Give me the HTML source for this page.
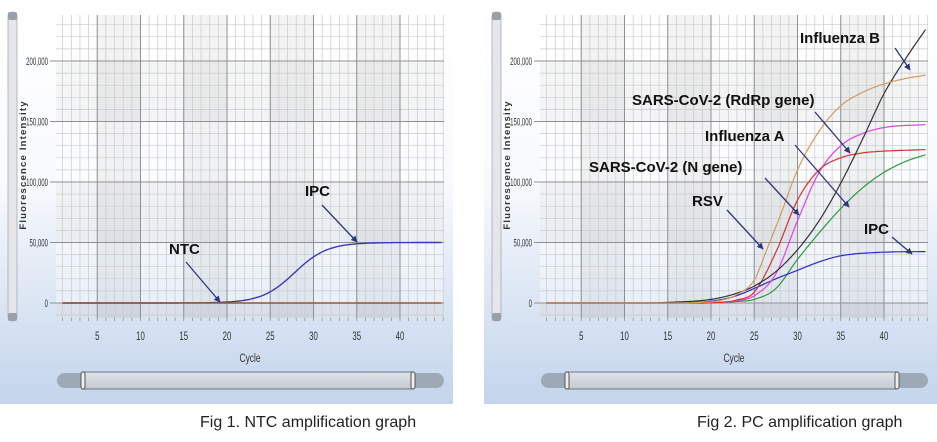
<!DOCTYPE html>
<html><head><meta charset="utf-8"><style>
html,body{margin:0;padding:0;background:#fff;width:937px;height:442px;overflow:hidden}
svg{display:block}
text{font-family:"Liberation Sans",sans-serif}
</style></head><body>
<svg id="s" width="937" height="442" xmlns="http://www.w3.org/2000/svg">
<defs>
<linearGradient id="bg" x1="0" y1="0" x2="0" y2="1">
<stop offset="0" stop-color="#ffffff"/><stop offset="0.45" stop-color="#f8fafd"/><stop offset="1" stop-color="#c3d4ec"/></linearGradient>
<linearGradient id="sl" x1="0" y1="0" x2="0" y2="1"><stop offset="0" stop-color="#dfe3e9"/><stop offset="1" stop-color="#c3c9d2"/></linearGradient>
<marker id="ah" viewBox="0 0 10 10" refX="9" refY="5" markerWidth="5" markerHeight="5" orient="auto"><path d="M0,0L10,5L0,10z" fill="#2e3580"/></marker>
</defs>
<g id="root"></g>
<text x="200" y="427" font-size="16" fill="#222">Fig 1. NTC amplification graph</text>
<text x="697" y="427" font-size="16" fill="#222">Fig 2. PC amplification graph</text>
</svg>
<script>
const NS="http://www.w3.org/2000/svg";
const root=document.getElementById('root');
function el(t,a,p){const e=document.createElementNS(NS,t);for(const k in a)e.setAttribute(k,a[k]);(p||root).appendChild(e);return e;}
function txt(x,y,s,a){const e=el('text',Object.assign({x:x,y:y},a));e.textContent=s;return e;}
const Y0=303,PX=60.5/50000,CX=8.65;
function panel(ox){
 el('rect',{x:ox,y:0,width:453,height:404,fill:'url(#bg)'});
 const L=ox+56,R=ox+444,T=15,B=318;
 const cx=c=>ox+54+CX*c, cy=v=>Y0-v*PX;
 el('rect',{x:L,y:T,width:R-L,height:B-T,fill:'rgba(255,255,255,0.4)'});
 [[200000,150000],[100000,50000]].forEach(b=>el('rect',{x:L,y:cy(b[0]),width:R-L,height:cy(b[1])-cy(b[0]),fill:'rgba(0,0,0,0.035)'}));
 el('rect',{x:L,y:Y0,width:R-L,height:B-Y0,fill:'rgba(0,0,0,0.06)'});
 [5,15,25,35].forEach(c=>el('rect',{x:cx(c),y:T,width:CX*5,height:B-T,fill:'rgba(0,0,0,0.045)'}));
 for(let c=1;c<=45;c++){el('line',{x1:cx(c),x2:cx(c),y1:T,y2:B,stroke:'#cacaca','stroke-width':0.7});}
 for(let v=-10000;v<=230000;v+=10000){const y=cy(v);if(y<T||y>B)continue;el('line',{x1:L,x2:R,y1:y,y2:y,stroke:'#cacaca','stroke-width':0.7});}
 for(let v=0;v<=200000;v+=50000){el('line',{x1:L-6,x2:R,y1:cy(v),y2:cy(v),stroke:'#909090','stroke-width':1});
  const tx=ox+48,ty=cy(v)+4;
  txt(tx,ty,v?v.toLocaleString('en-US'):'0',{'font-size':11,'text-anchor':'end',fill:'#333',transform:`translate(${tx},${ty}) scale(0.55,1) translate(${-tx},${-ty})`});}
 for(let c=5;c<=40;c+=5){el('line',{x1:cx(c),x2:cx(c),y1:T,y2:B,stroke:'#909090','stroke-width':1});
  txt(cx(c),340,String(c),{'font-size':12,'text-anchor':'middle',fill:'#333',transform:`translate(${cx(c)},340) scale(0.65,1) translate(${-cx(c)},-340)`});}
 for(let c=1;c<=45;c++)el('line',{x1:cx(c),x2:cx(c),y1:B,y2:B+3,stroke:'#888','stroke-width':0.7});
 txt(ox+250,362,'Cycle',{'font-size':12,'text-anchor':'middle',fill:'#333',transform:`translate(${ox+250},362) scale(0.7,1) translate(${-(ox+250)},-362)`});
 el('rect',{x:ox+8,y:12,width:9,height:309,rx:4,fill:'#e4e6ea',stroke:'#aab',"stroke-width":0.8});
 el('rect',{x:ox+8,y:12,width:9,height:8,rx:2,fill:'#9aa0a8'});
 el('rect',{x:ox+8,y:313,width:9,height:8,rx:2,fill:'#9aa0a8'});
 txt(0,0,'Fluorescence Intensity',{'font-size':9.5,'font-weight':'bold','letter-spacing':'1.2','text-anchor':'middle',fill:'#333',transform:`translate(${ox+26},165) rotate(-90)`});
 el('rect',{x:ox+57,y:373,width:387,height:15,rx:7.5,fill:'#9ea9b8'});
 el('rect',{x:ox+82,y:372,width:331,height:17,fill:'url(#sl)',stroke:'#6d7480','stroke-width':1});
 el('rect',{x:ox+81,y:372,width:4,height:17,rx:2,fill:'#eee',stroke:'#555'});
 el('rect',{x:ox+411,y:372,width:4,height:17,rx:2,fill:'#eee',stroke:'#555'});
 return {cx,cy};
}
function sig(P,m,s){return c=>{const b=P/(1+Math.exp(-(1-m)/s));return Math.max(0,P/(1+Math.exp(-(c-m)/s))-b);};}
function mono(pts){const n=pts.length,xs=pts.map(p=>p[0]),ys=pts.map(p=>p[1]);const d=[],m=[];
 for(let i=0;i<n-1;i++)d.push((ys[i+1]-ys[i])/(xs[i+1]-xs[i]));
 m[0]=d[0];m[n-1]=d[n-2];for(let i=1;i<n-1;i++)m[i]=(d[i-1]*d[i]<=0)?0:(d[i-1]+d[i])/2;
 for(let i=0;i<n-1;i++){if(d[i]===0){m[i]=m[i+1]=0;continue;}const a=m[i]/d[i],b=m[i+1]/d[i],s=a*a+b*b;if(s>9){const t=3/Math.sqrt(s);m[i]=t*a*d[i];m[i+1]=t*b*d[i];}}
 return c=>{let i=0;while(i<n-2&&c>xs[i+1])i++;const h=xs[i+1]-xs[i],t=(c-xs[i])/h,t2=t*t,t3=t2*t;
  return (2*t3-3*t2+1)*ys[i]+(t3-2*t2+t)*h*m[i]+(-2*t3+3*t2)*ys[i+1]+(t3-t2)*h*m[i+1];};}
function curve(f,m,color,w){let d='';for(let c=1;c<=45;c+=0.2){d+=(d?'L':'M')+m.cx(c).toFixed(1)+','+m.cy(Math.max(0,f(c))).toFixed(1);}
 el('path',{d:d,fill:'none',stroke:color,'stroke-width':w||1.2});}
function arrow(x1,y1,x2,y2){el('line',{x1,y1,x2,y2,stroke:'#2e3580','stroke-width':1.3,'marker-end':'url(#ah)'});}
function lab(x,y,s){txt(x,y,s,{'font-size':15,'font-weight':'bold',fill:'#111'});}
const m1=panel(0);
curve(sig(50000,27.8,1.89),m1,'#3a3ab8',1.4);
curve(c=>0,m1,'#a0522d',1.6);
lab(169,254,'NTC');arrow(186,262,220,302);
lab(305,196,'IPC');arrow(322,205,357,242);
const m2=panel(484);
curve(mono([[1,0],[18,0],[21,300],[23,1200],[25,3000],[27.5,12000],[30,36000],[32.5,58000],[35,78000],[37.5,95000],[40,108000],[42.5,117000],[45,123000]]),m2,'#2e9a40');
curve(mono([[1,0],[15,0],[18,500],[20,1500],[22.5,5000],[25,12000],[27.5,20000],[30,27000],[32.5,34000],[35,39000],[40,42000],[45,42500]]),m2,'#2a2ac8');
curve(mono([[1,0],[18,0],[21,500],[23,1800],[25,6000],[27.5,24000],[30,68000],[32.5,108000],[35,130000],[37.5,140000],[40,145000],[45,147500]]),m2,'#e040e0');
curve(mono([[1,0],[18,0],[21,500],[23,2500],[25,9000],[27.5,42000],[30,85000],[32.5,110000],[35,120000],[37.5,124000],[40,125500],[45,126800]]),m2,'#d83030');
curve(mono([[1,0],[12,0],[15,500],[20,3000],[22.5,7000],[25,14000],[27.5,26000],[30,44000],[32.5,68000],[35,99000],[37.5,135000],[40,173000],[42.5,202000],[45,228000]]),m2,'#333');
curve(mono([[1,0],[16,0],[19,600],[21,2000],[23,7000],[25,19000],[26.5,45000],[28,72000],[30,110000],[32.5,142000],[35,163000],[37.5,174000],[40,181000],[42.5,185500],[45,188500]]),m2,'#d49a5a');
lab(800,43,'Influenza B');arrow(895,48,910,70);
lab(632,105,'SARS-CoV-2 (RdRp gene)');arrow(815,112,850,153);
lab(705,141,'Influenza A');arrow(795,145,849,207);
lab(589,172,'SARS-CoV-2 (N gene)');arrow(765,178,799,215);
lab(692,206,'RSV');arrow(727,210,763,249);
lab(864,234,'IPC');arrow(892,237,912,254);
</script>
</body></html>
